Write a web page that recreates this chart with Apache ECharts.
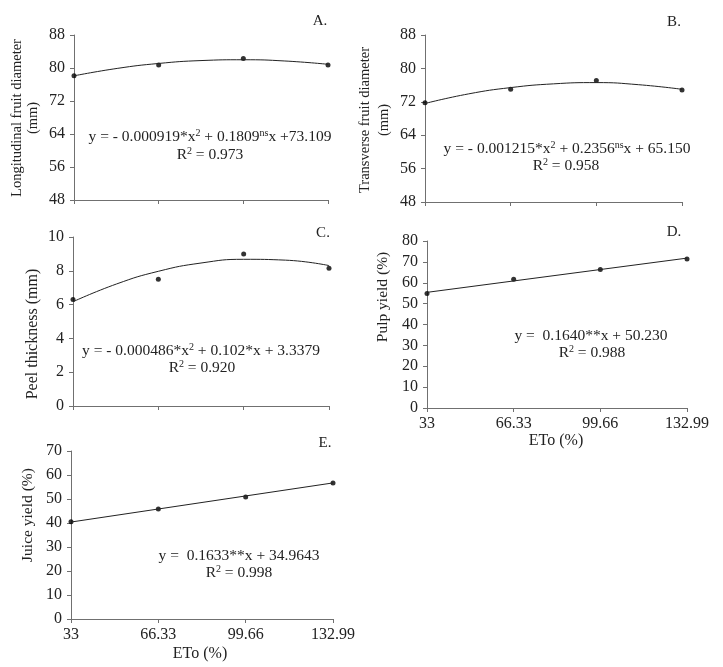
<!DOCTYPE html>
<html>
<head>
<meta charset="utf-8">
<script src="https://cdn.jsdelivr.net/npm/echarts@6/dist/echarts.min.js"></script>
<style>html,body{margin:0;padding:0;background:#fff;}#c{width:723px;height:667px;}</style>
</head>
<body>
<div id="c"></div>
<script>
// ETo levels (%)
var etoTicks = [33, 66.33, 99.66, 132.99];
var etoLabels = ['33', '66.33', '99.66', '132.99'];

// Observed means
var longDiam = [78.1, 80.7, 82.3, 80.7];
var transDiam = [71.8, 75.0, 77.1, 74.8];
var peelThick = [6.3, 7.5, 9.0, 8.15];
var pulpYield = [54.8, 61.7, 66.3, 71.4];
var juiceYield = [40.5, 45.8, 50.8, 56.7];

// Fitted trend curves
var trendX = [33, 50, 66.33, 83, 99.66, 116, 132.99];
var longTrend = [78.1, 79.9, 81.1, 81.8, 82.0, 81.7, 80.9];
var transTrend = [71.6, 73.9, 75.4, 76.3, 76.6, 76.1, 75.0];
var peelTrend = [6.17, 7.22, 7.97, 8.46, 8.68, 8.63, 8.31];
var linX = [33, 132.99];
var pulpTrend = [55.4, 71.8];
var juiceTrend = [40.4, 56.7];

var FONT = '"Liberation Serif", "DejaVu Serif", serif';
var AX = '#707070';

function pairs(xs, ys) { return xs.map(function (x, i) { return [x, ys[i]]; }); }

var grids = [
  { left: 74, top: 35, width: 254, height: 165 },
  { left: 425, top: 35, width: 257, height: 167 },
  { left: 73, top: 237, width: 256, height: 169 },
  { left: 427, top: 241, width: 260, height: 167 },
  { left: 71, top: 451, width: 262, height: 168 }
];
var yCfg = [
  { min: 48, max: 88, interval: 8 },
  { min: 48, max: 88, interval: 8 },
  { min: 0, max: 10, interval: 2 },
  { min: 0, max: 80, interval: 10 },
  { min: 0, max: 70, interval: 10 }
];
var showX = [false, false, false, true, true];

var xAxes = [], yAxes = [], series = [];
var obs = [longDiam, transDiam, peelThick, pulpYield, juiceYield];
var trends = [[trendX, longTrend], [trendX, transTrend], [trendX, peelTrend], [linX, pulpTrend], [linX, juiceTrend]];

for (var i = 0; i < 5; i++) {
  xAxes.push({
    gridIndex: i, type: 'value', min: 33, max: 132.99,
    axisLine: { show: true, onZero: false, lineStyle: { color: AX, width: 1 } },
    axisTick: { show: true, length: 4, customValues: etoTicks, lineStyle: { color: AX } },
    axisLabel: { show: showX[i], customValues: etoTicks, color: '#222', fontFamily: FONT, fontSize: 16, margin: 8,
      formatter: function (v) { var k = etoTicks.indexOf(v); return k >= 0 ? etoLabels[k] : ''; } },
    splitLine: { show: false }
  });
  yAxes.push({
    gridIndex: i, type: 'value', min: yCfg[i].min, max: yCfg[i].max, interval: yCfg[i].interval,
    axisLine: { show: true, lineStyle: { color: AX, width: 1 } },
    axisTick: { show: true, length: 4, lineStyle: { color: AX } },
    axisLabel: { color: '#222', fontFamily: FONT, fontSize: 16, margin: 9 },
    splitLine: { show: false }
  });
  series.push({
    type: 'line', xAxisIndex: i, yAxisIndex: i, data: pairs(trends[i][0], trends[i][1]),
    smooth: trends[i][0].length > 2 ? 0.5 : false, showSymbol: false, silent: true,
    lineStyle: { color: '#222', width: 1 }
  });
  series.push({
    type: 'scatter', xAxisIndex: i, yAxisIndex: i, data: pairs(etoTicks, obs[i]),
    symbolSize: 5, itemStyle: { color: '#000' }, silent: true
  });
}

var rich = {
  a: { fontFamily: FONT, fontSize: 15.5, color: '#222', lineHeight: 18 },
  s: { fontFamily: FONT, fontSize: 10, color: '#222', verticalAlign: 'top', lineHeight: 18 }
};
function txt(x, y, t, opt) {
  opt = opt || {};
  return {
    type: 'text', x: x, y: y, rotation: opt.rot || 0,
    style: { text: t, fontFamily: FONT, fontSize: opt.size || 15.5, fill: '#222',
      align: opt.align || 'center', verticalAlign: 'middle', rich: rich, lineHeight: opt.lh || 18 }
  };
}
var graphics = [
  txt(320, 21, 'A.', { size: 15 }), txt(674, 22, 'B.', { size: 15 }),
  txt(323, 233, 'C.', { size: 15 }), txt(674, 232, 'D.', { size: 15 }), txt(325, 443, 'E.', { size: 15 }),
  txt(210, 137, '{a|y = - 0.000919*x}{s|2}{a| + 0.1809}{s|ns}{a|x +73.109}'),
  txt(210, 155, '{a|R}{s|2}{a| = 0.973}'),
  txt(567, 149, '{a|y = - 0.001215*x}{s|2}{a| + 0.2356}{s|ns}{a|x + 65.150}'),
  txt(566, 166, '{a|R}{s|2}{a| = 0.958}'),
  txt(201, 351, '{a|y = - 0.000486*x}{s|2}{a| + 0.102*x + 3.3379}'),
  txt(202, 368, '{a|R}{s|2}{a| = 0.920}'),
  txt(591, 336, '{a|y =  0.1640**x + 50.230}'),
  txt(592, 353, '{a|R}{s|2}{a| = 0.988}'),
  txt(239, 556, '{a|y =  0.1633**x + 34.9643}'),
  txt(239, 573, '{a|R}{s|2}{a| = 0.998}'),
  txt(25, 118, 'Longitudinal fruit diameter\n(mm)', { rot: Math.PI / 2, lh: 16, size: 14.5 }),
  txt(375, 120, 'Transverse fruit diameter\n(mm)', { rot: Math.PI / 2, lh: 19, size: 14.5 }),
  txt(33, 334, 'Peel thickness (mm)', { rot: Math.PI / 2, size: 16 }),
  txt(383, 297, 'Pulp yield (%)', { rot: Math.PI / 2, size: 15.5 }),
  txt(28, 515, 'Juice yield (%)', { rot: Math.PI / 2, size: 15.5 }),
  txt(556, 441, 'ETo (%)', { size: 16 }),
  txt(200, 654, 'ETo (%)', { size: 16 })
];

var chart = echarts.init(document.getElementById('c'), null, { renderer: 'canvas' });
chart.setOption({
  backgroundColor: '#fff',
  animation: false,
  grid: grids,
  xAxis: xAxes,
  yAxis: yAxes,
  series: series,
  graphic: graphics
});
</script>
</body>
</html>
